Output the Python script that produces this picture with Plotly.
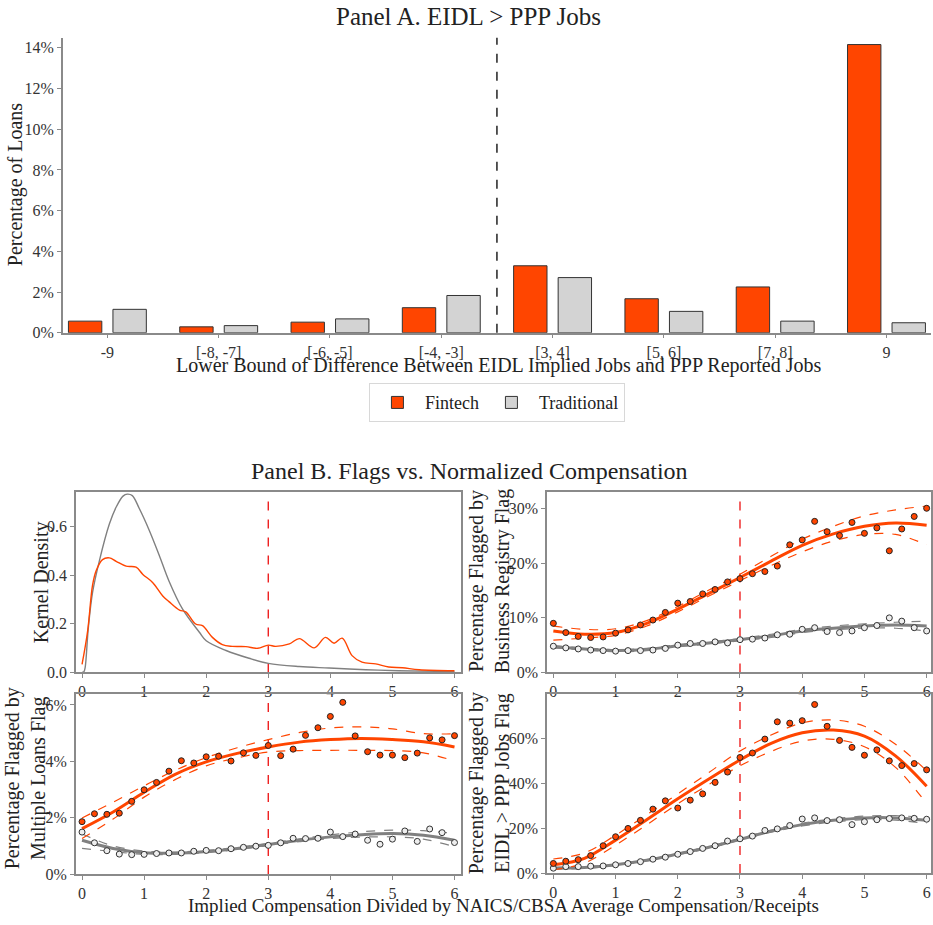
import plotly.graph_objects as go

W, H = 933, 925
def px(x): return x / W
def py(y): return (H - y) / H

FONT = "Liberation Serif, DejaVu Serif, serif"
ORANGE = "#FF4500"
GRAY = "#808080"
LIGHT = "#D3D3D3"
EDGE = "#333333"
SPINE = "#8a8a8a"

# ---------------- Panel A data ----------------
categories = ["-9", "[-8, -7]", "[-6, -5]", "[-4, -3]", "[3, 4]", "[5, 6]", "[7, 8]", "9"]
fintech_pct = [0.57, 0.29, 0.52, 1.23, 3.29, 1.67, 2.25, 14.16]
traditional_pct = [1.15, 0.35, 0.68, 1.83, 2.71, 1.05, 0.57, 0.49]

# ---------------- Panel B: kernel density ----------------
kde_trad_x = [0.0, 0.03, 0.05, 0.1, 0.17, 0.28, 0.44, 0.55, 0.66, 0.73, 0.81, 0.92, 1.08, 1.24,
              1.40, 1.62, 1.89, 2.0, 2.32, 2.69, 3.0, 3.5, 3.98, 4.57, 5.1, 6.0]
kde_trad_y = [0.0, 0.003, 0.02, 0.18, 0.33, 0.46, 0.61, 0.68, 0.725, 0.733, 0.727, 0.675, 0.586,
              0.484, 0.376, 0.26, 0.165, 0.13, 0.09, 0.058, 0.037, 0.024, 0.018, 0.011, 0.007, 0.003]
kde_fin_x = [0.0, 0.09, 0.17, 0.23, 0.33, 0.44, 0.55, 0.71, 0.87, 0.98, 1.14, 1.30, 1.40, 1.57,
             1.67, 1.83, 1.94, 2.10, 2.26, 2.42, 2.64, 2.83, 3.0, 3.12, 3.34, 3.50, 3.74, 3.92,
             4.06, 4.19, 4.35, 4.51, 4.73, 4.94, 5.16, 5.43, 6.0]
kde_fin_y = [0.033, 0.17, 0.36, 0.42, 0.464, 0.471, 0.457, 0.437, 0.433, 0.403, 0.369, 0.314,
             0.291, 0.256, 0.249, 0.199, 0.192, 0.144, 0.114, 0.107, 0.106, 0.099, 0.112, 0.107,
             0.117, 0.139, 0.101, 0.144, 0.12, 0.141, 0.069, 0.042, 0.035, 0.022, 0.019, 0.011, 0.007]

# ---------------- Panel B: binned scatter ----------------
bin_x = [0.0, 0.2, 0.4, 0.6, 0.8, 1.0, 1.2, 1.4, 1.6, 1.8, 2.0, 2.2, 2.4, 2.6, 2.8, 3.0,
         3.2, 3.4, 3.6, 3.8, 4.0, 4.2, 4.4, 4.6, 4.8, 5.0, 5.2, 5.4, 5.6, 5.8, 6.0]

registry_fin = [9.0, 7.3, 6.6, 6.4, 6.5, 7.2, 7.8, 8.7, 9.6, 11.0, 12.7, 13.0, 14.4, 15.2, 16.6,
                17.2, 18.1, 18.5, 19.5, 23.4, 24.3, 27.7, 25.8, 25.1, 27.5, 25.5, 26.5, 22.3,
                26.3, 28.6, 30.1]
registry_trad = [4.8, 4.5, 4.3, 4.1, 4.0, 3.9, 4.0, 4.0, 4.1, 4.4, 5.0, 5.3, 5.3, 5.6, 5.4, 6.0,
                 6.1, 6.3, 6.9, 7.0, 7.9, 8.2, 7.5, 7.3, 7.6, 8.2, 8.6, 10.0, 9.4, 8.2, 7.6]

multi_fin = [1.86, 2.14, 2.12, 2.16, 2.58, 2.99, 3.25, 3.65, 4.02, 3.94, 4.16, 4.18, 4.01, 4.30,
             4.21, 4.56, 4.20, 4.43, 4.92, 5.19, 5.59, 6.09, 4.90, 4.34, 4.22, 4.22, 4.13, 4.29,
             4.83, 4.76, 4.91]
multi_trad = [1.49, 1.11, 0.83, 0.71, 0.69, 0.70, 0.73, 0.75, 0.75, 0.81, 0.84, 0.83, 0.90, 0.95,
              0.99, 1.02, 1.11, 1.27, 1.26, 1.27, 1.49, 1.33, 1.42, 1.20, 1.06, 1.24, 1.53, 1.16,
              1.60, 1.47, 1.12]

jobs_fin = [4.3, 5.3, 6.0, 7.8, 12.2, 16.2, 19.9, 23.5, 28.5, 32.2, 29.0, 32.5, 35.3, 40.4, 45.0,
            51.5, 53.5, 59.7, 67.4, 66.8, 67.9, 75.1, 65.4, 59.1, 56.0, 52.5, 54.9, 50.0, 47.9,
            48.8, 46.0]
jobs_trad = [2.2, 2.9, 2.9, 3.1, 3.2, 3.7, 4.3, 5.1, 6.2, 7.1, 8.4, 9.6, 11.0, 12.2, 14.3, 15.3,
             16.5, 19.0, 19.7, 21.2, 24.1, 24.6, 23.4, 23.8, 21.6, 22.9, 23.8, 24.3, 24.6, 24.4, 24.0]

# ---------------- Panel B: fitted curves (read at these x) ----------------
fit_x = [0, 0.5, 1, 1.5, 2, 2.5, 3, 3.5, 4, 4.5, 5, 5.5, 6]

registry_fin_fit = [7.6, 7.0, 7.3, 9.0, 11.6, 14.5, 17.4, 20.4, 23.3, 25.4, 26.8, 27.4, 27.0]
registry_fin_hi = [8.5, 7.9, 8.0, 9.5, 12.1, 15.1, 18.0, 21.3, 24.4, 26.8, 28.7, 29.8, 30.5]
registry_fin_lo = [5.9, 6.3, 6.8, 8.5, 11.1, 14.0, 16.8, 19.6, 22.1, 24.1, 25.3, 25.3, 23.4]
registry_trad_fit = [4.7, 4.3, 4.0, 4.2, 4.9, 5.4, 6.0, 6.7, 7.6, 8.1, 8.5, 8.7, 8.5]
registry_trad_hi = [4.9, 4.5, 4.2, 4.4, 5.1, 5.6, 6.2, 7.0, 7.9, 8.5, 8.9, 9.2, 9.4]
registry_trad_lo = [4.5, 4.1, 3.8, 4.0, 4.7, 5.2, 5.8, 6.4, 7.3, 7.8, 8.1, 8.1, 7.6]

multi_fin_fit = [1.61, 2.2, 2.9, 3.54, 3.98, 4.28, 4.51, 4.68, 4.77, 4.81, 4.77, 4.69, 4.51]
multi_fin_hi = [1.99, 2.55, 3.13, 3.68, 4.13, 4.48, 4.77, 5.02, 5.18, 5.22, 5.15, 4.98, 4.98]
multi_fin_lo = [1.26, 1.95, 2.73, 3.35, 3.84, 4.12, 4.33, 4.38, 4.39, 4.39, 4.38, 4.30, 4.01]
multi_trad_fit = [1.2, 0.91, 0.76, 0.74, 0.8, 0.91, 1.05, 1.2, 1.32, 1.40, 1.44, 1.38, 1.2]
multi_trad_hi = [1.42, 1.0, 0.82, 0.78, 0.84, 0.95, 1.09, 1.25, 1.39, 1.5, 1.56, 1.54, 1.44]
multi_trad_lo = [0.91, 0.8, 0.70, 0.70, 0.76, 0.87, 1.01, 1.15, 1.26, 1.31, 1.32, 1.24, 0.97]

jobs_fin_fit = [3.7, 6.6, 14.7, 23.8, 33.1, 41.9, 50.4, 57.8, 62.5, 63.7, 61.0, 52.2, 38.7]
jobs_fin_hi = [6.3, 9.0, 16.9, 26.0, 35.3, 44.8, 54.4, 61.5, 66.9, 68.2, 65.4, 57.4, 45.6]
jobs_fin_lo = [1.5, 4.5, 12.5, 21.5, 30.9, 39.5, 47.8, 54.2, 58.8, 59.6, 56.3, 47.1, 30.9]
jobs_trad_fit = [2.2, 2.5, 3.7, 5.7, 8.5, 11.5, 15.1, 18.7, 21.6, 23.5, 24.6, 24.6, 23.5]
jobs_trad_hi = [2.6, 2.9, 4.0, 6.0, 8.8, 11.9, 15.5, 19.2, 22.2, 24.2, 25.4, 25.6, 24.7]
jobs_trad_lo = [1.8, 2.1, 3.4, 5.4, 8.2, 11.1, 14.7, 18.2, 21.0, 22.8, 23.8, 23.6, 22.1]

fig = go.Figure()

# ---- Panel A bars ----
fig.add_trace(go.Bar(x=categories, y=fintech_pct, name="Fintech", offset=-0.35, width=0.3,
                     marker=dict(color=ORANGE, line=dict(color=EDGE, width=1)),
                     xaxis="x", yaxis="y"))
fig.add_trace(go.Bar(x=categories, y=traditional_pct, name="Traditional", offset=0.05, width=0.3,
                     marker=dict(color=LIGHT, line=dict(color=EDGE, width=1)),
                     xaxis="x", yaxis="y"))

# ---- KDE ----
fig.add_trace(go.Scatter(x=kde_trad_x, y=kde_trad_y, mode="lines",
                         line=dict(color=GRAY, width=1.4, shape="spline"),
                         showlegend=False, xaxis="x2", yaxis="y2"))
fig.add_trace(go.Scatter(x=kde_fin_x, y=kde_fin_y, mode="lines",
                         line=dict(color=ORANGE, width=1.4, shape="spline"),
                         showlegend=False, xaxis="x2", yaxis="y2"))

def add_panel(ax, fin_pts, trad_pts, ffit, fhi, flo, tfit, thi, tlo):
    xa, ya = "x%d" % ax, "y%d" % ax
    for fit, hi, lo, col in [(tfit, thi, tlo, GRAY), (ffit, fhi, flo, ORANGE)]:
        fig.add_trace(go.Scatter(x=fit_x, y=fit, mode="lines",
                                 line=dict(color=col, width=3, shape="spline"),
                                 showlegend=False, xaxis=xa, yaxis=ya))
        for b in (hi, lo):
            fig.add_trace(go.Scatter(x=fit_x, y=b, mode="lines",
                                     line=dict(color=col, width=1.2, dash="dash", shape="spline"),
                                     showlegend=False, xaxis=xa, yaxis=ya))
    fig.add_trace(go.Scatter(x=bin_x, y=trad_pts, mode="markers",
                             marker=dict(color="#eeeeee", size=6, line=dict(color=EDGE, width=1)),
                             showlegend=False, xaxis=xa, yaxis=ya))
    fig.add_trace(go.Scatter(x=bin_x, y=fin_pts, mode="markers",
                             marker=dict(color=ORANGE, size=6, line=dict(color="#222", width=1)),
                             showlegend=False, xaxis=xa, yaxis=ya))

add_panel(3, registry_fin, registry_trad, registry_fin_fit, registry_fin_hi, registry_fin_lo,
          registry_trad_fit, registry_trad_hi, registry_trad_lo)
add_panel(4, multi_fin, multi_trad, multi_fin_fit, multi_fin_hi, multi_fin_lo,
          multi_trad_fit, multi_trad_hi, multi_trad_lo)
add_panel(5, jobs_fin, jobs_trad, jobs_fin_fit, jobs_fin_hi, jobs_fin_lo,
          jobs_trad_fit, jobs_trad_hi, jobs_trad_lo)

tickfont = dict(family=FONT, size=16, color="#333")

def b_axis(domain, rng, anchor, **kw):
    d = dict(domain=domain, range=rng, anchor=anchor, showline=True, mirror=True,
             linecolor=SPINE, linewidth=1.5, ticks="outside", ticklen=4, tickcolor=SPINE,
             showgrid=False, zeroline=False, tickfont=tickfont, tickmode="linear", tick0=0)
    d.update(kw)
    return d

top_y = [py(679), py(497.3)]
bot_y = [py(882.7), py(701)]
left_x = [px(76), px(461.7)]
right_x = [px(548.3), 1.0]

layout = dict(
    width=W, height=H, margin=dict(l=0, r=0, t=0, b=0),
    paper_bgcolor="white", plot_bgcolor="white",
    font=dict(family=FONT, size=16, color="#222"),
    barmode="overlay",
    showlegend=True,
    legend=dict(orientation="h", x=px(498), xanchor="center", y=py(387), yanchor="top",
                bordercolor="#d8d8d8", borderwidth=1, font=dict(family=FONT, size=18, color="#222"),
                itemwidth=45, tracegroupgap=30),
    xaxis=dict(domain=[px(63), 1.0], range=[-0.4, 7.4], anchor="y", type="category",
               showline=True, linecolor=SPINE, linewidth=1.5, ticks="outside", ticklen=4,
               tickcolor=SPINE, showgrid=False, zeroline=False, tickfont=tickfont),
    yaxis=dict(domain=[py(336), py(38)], range=[0, 14.5], anchor="x", tickmode="linear",
               tick0=0, dtick=2, ticksuffix="%", showline=True, linecolor=SPINE, linewidth=1.5,
               ticks="outside", ticklen=4, tickcolor=SPINE, showgrid=False, zeroline=False,
               tickfont=tickfont),
    xaxis2=b_axis(left_x, [-0.1, 6.1], "y2", dtick=1),
    yaxis2=b_axis(top_y, [0, 0.74], "x2", dtick=0.2, tickformat=".1f"),
    xaxis3=b_axis(right_x, [-0.1, 6.07], "y3", dtick=1),
    yaxis3=b_axis(top_y, [0, 33], "x3", dtick=10, ticksuffix="%"),
    xaxis4=b_axis(left_x, [-0.1, 6.1], "y4", dtick=1),
    yaxis4=b_axis(bot_y, [0, 6.38], "x4", dtick=2, ticksuffix="%"),
    xaxis5=b_axis(right_x, [-0.1, 6.07], "y5", dtick=1),
    yaxis5=b_axis([py(881.7), py(701)], [0, 79.7], "x5", dtick=20, ticksuffix="%"),
)

shapes = [dict(type="line", xref="x", yref="y domain", x0=3.5, x1=3.5, y0=0, y1=1,
               line=dict(color="#222", width=1.5, dash="dash"))]
for i in (2, 3, 4, 5):
    shapes.append(dict(type="line", xref="x%d" % i, yref="y%d domain" % i, x0=3, x1=3, y0=0, y1=1,
                       line=dict(color="#ee2222", width=1.4, dash="dash"), layer="below"))
layout["shapes"] = shapes

def ann(text, x, y, size=20, angle=0, **kw):
    d = dict(text=text, x=x, y=y, xref="paper", yref="paper", showarrow=False,
             font=dict(family=FONT, size=size, color="#222"), textangle=angle,
             xanchor="center", yanchor="middle")
    d.update(kw)
    return d

layout["annotations"] = [
    ann("Panel A. EIDL &gt; PPP Jobs", px(470), py(17), size=25),
    ann("Percentage of Loans", px(15), py(186), angle=-90),
    ann("Lower Bound of Difference Between EIDL Implied Jobs and PPP Reported Jobs", px(500), py(369)),
    ann("Panel B. Flags vs. Normalized Compensation", px(471), py(476), size=24),
    ann("Kernel Density", px(41), py(588), angle=-90),
    ann("Percentage Flagged by<br>Business Registry Flag", px(490), py(587), angle=-90),
    ann("Percentage Flagged by<br>Multiple Loans Flag", px(25), py(786), angle=-90),
    ann("Percentage Flagged by<br>EIDL &gt; PPP Jobs Flag", px(490), py(791), angle=-90),
    ann("Implied Compensation Divided by NAICS/CBSA Average Compensation/Receipts", px(505), py(914),
        size=19),
]

fig.update_layout(**layout)

# Pin the chart to the window's top-left corner so the page is exactly the window size
pin = ("var d=document.getElementById('{plot_id}');"
       "d.style.position='fixed';d.style.left='0px';d.style.top='0px';"
       "document.body.style.margin='0';document.body.style.padding='0';"
       "document.body.style.height='925px';document.body.style.overflow='hidden';"
       "document.documentElement.style.height='925px';"
       "document.documentElement.style.overflow='hidden';")
fig.write_html("out.html", config={"displayModeBar": False}, post_script=pin)
